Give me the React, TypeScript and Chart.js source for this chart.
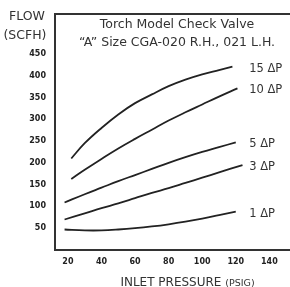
import React, { useEffect, useRef } from 'react';
import { Chart, registerables } from 'chart.js';

Chart.register(...registerables);

// Data (inlet pressure PSIG -> flow SCFH)
const pressure15 = [22, 30, 40, 50, 60, 70, 80, 90, 100, 110, 118];
const flow15 = [210, 245, 280, 311, 337, 357, 376, 391, 403, 413, 421];

const pressure10 = [22, 30, 40, 50, 60, 70, 80, 90, 100, 110, 121];
const flow10 = [163, 184, 209, 233, 255, 276, 297, 316, 334, 352, 371];

const pressure5 = [18, 30, 40, 50, 60, 70, 80, 90, 100, 110, 120];
const flow5 = [109, 128, 143, 158, 172, 186, 200, 213, 225, 236, 247];

const pressure3 = [18, 30, 40, 50, 60, 70, 80, 90, 100, 110, 124];
const flow3 = [70, 84, 96, 107, 119, 131, 142, 154, 166, 178, 195];

const pressure1 = [18, 30, 40, 50, 60, 70, 80, 90, 100, 110, 120];
const flow1 = [47, 45, 45, 47, 50, 54, 59, 65, 72, 80, 88];

const seriesLabels = ['15 \u0394P', '10 \u0394P', '5 \u0394P', '3 \u0394P', '1 \u0394P'];
const xTicks = [20, 40, 60, 80, 100, 120, 140];
const yTicks = [50, 100, 150, 200, 250, 300, 350, 400, 450];

const labelPressure = 128;
const LINE = '#222222';
const FONT = "'DejaVu Sans', 'Liberation Sans', sans-serif";

const zip = (xs: number[], ys: number[]) => xs.map((x, i) => ({ x, y: ys[i] }));

const endLabels = {
  id: 'endLabels',
  afterDatasetsDraw(chart: any) {
    const { ctx } = chart;
    const xs = chart.scales.x;
    const ys = chart.scales.y;
    ctx.save();
    ctx.font = `normal 11.5px ${FONT}`;
    ctx.fillStyle = '#333';
    ctx.textAlign = 'left';
    ctx.textBaseline = 'middle';
    chart.data.datasets.forEach((ds: any) => {
      const last = ds.data[ds.data.length - 1];
      ctx.fillText(ds.label, xs.getPixelForValue(labelPressure), ys.getPixelForValue(last.y) + 2);
    });
    ctx.restore();
  },
};

export default function App() {
  const ref = useRef<HTMLCanvasElement>(null);

  useEffect(() => {
    if (!ref.current) return;
    const series = [
      zip(pressure15, flow15),
      zip(pressure10, flow10),
      zip(pressure5, flow5),
      zip(pressure3, flow3),
      zip(pressure1, flow1),
    ];
    const tickFont = { family: FONT, size: 8, weight: 'bold' as const };
    const chart = new Chart(ref.current, {
      type: 'line',
      data: {
        datasets: series.map((d, i) => ({
          label: seriesLabels[i],
          data: d,
          borderColor: LINE,
          borderWidth: 1.8,
          pointRadius: 0,
          fill: false,
          tension: 0.4,
        })),
      },
      options: {
        responsive: false,
        animation: false,
        devicePixelRatio: 1,
        layout: { padding: 0 },
        plugins: {
          legend: { display: false },
          tooltip: { enabled: false },
          title: { display: false },
        },
        scales: {
          x: {
            type: 'linear',
            position: 'bottom',
            min: 12.3,
            max: 152.3,
            grid: { display: false, drawTicks: false },
            border: { display: true, color: '#333', width: 2 },
            afterBuildTicks: (s: any) => {
              s.ticks = xTicks.map((v) => ({ value: v }));
            },
            afterFit: (s: any) => {
              s.height = 37;
            },
            ticks: { color: '#222', font: tickFont, padding: 7, maxRotation: 0, autoSkip: false },
          },
          x2: {
            type: 'linear',
            position: 'top',
            min: 12.3,
            max: 152.3,
            grid: { display: false, drawTicks: false },
            border: { display: true, color: '#333', width: 2 },
            ticks: { display: false },
            afterFit: (s: any) => {
              s.height = 10;
            },
          },
          y: {
            type: 'linear',
            min: 0,
            max: 542,
            grid: { display: false, drawTicks: false },
            border: { display: true, color: '#333', width: 2 },
            afterBuildTicks: (s: any) => {
              s.ticks = yTicks.map((v) => ({ value: v }));
            },
            afterFit: (s: any) => {
              s.width = 55;
            },
            ticks: { color: '#222', font: tickFont, padding: 9, autoSkip: false },
          },
        },
      },
      plugins: [endLabels],
    });
    return () => chart.destroy();
  }, []);

  const textStyle: React.CSSProperties = {
    position: 'absolute',
    fontFamily: FONT,
    fontWeight: 'normal',
    color: '#333',
    whiteSpace: 'nowrap',
    lineHeight: 1,
  };

  return (
    <div style={{ position: 'fixed', left: 0, top: 0, width: 290, height: 287, background: '#fff', overflow: 'hidden' }}>
      <canvas ref={ref} width={290} height={287} style={{ position: 'absolute', left: 0, top: 0, width: 290, height: 287 }} />
      <div style={{ ...textStyle, left: 0, width: 54, top: 10, fontSize: 12.5, textAlign: 'center' }}>FLOW</div>
      <div style={{ ...textStyle, left: 0, width: 50, top: 29, fontSize: 12.5, textAlign: 'center' }}>(SCFH)</div>
      <div style={{ ...textStyle, left: 60, width: 234, top: 18, fontSize: 12.5, textAlign: 'center' }}>Torch Model Check Valve</div>
      <div style={{ ...textStyle, left: 60, width: 234, top: 36, fontSize: 12.5, textAlign: 'center' }}>
        {'\u201CA\u201D Size CGA-020 R.H., 021 L.H.'}
      </div>
      <div style={{ ...textStyle, left: 100, width: 175, top: 276, fontSize: 12, textAlign: 'center' }}>
        INLET PRESSURE <span style={{ fontSize: 9.5 }}>(PSIG)</span>
      </div>
    </div>
  );
}
